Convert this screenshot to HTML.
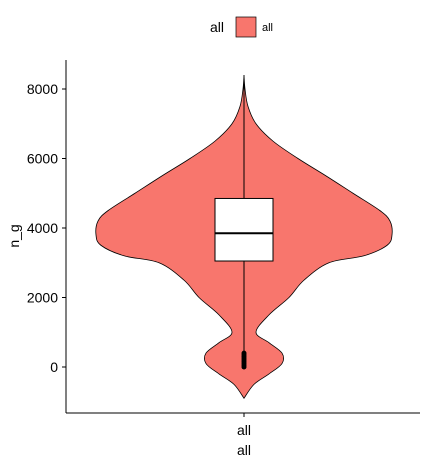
<!DOCTYPE html>
<html><head><meta charset="utf-8"><style>
body{margin:0;background:#fff;font-family:"Liberation Sans",sans-serif}
</style></head><body>
<svg id="c" width="425" height="461" xmlns="http://www.w3.org/2000/svg">
<g>
<text x="217" y="32" font-size="14" text-anchor="middle" fill="#000">all</text>
<rect x="236" y="17" width="20" height="20" fill="#F8766D" stroke="#000" stroke-width="0.7"/>
<text x="262" y="31" font-size="11" fill="#000">all</text>
</g>
<g id="plot"></g>
<line x1="66" y1="60" x2="66" y2="413" stroke="#000" stroke-width="1"/>
<line x1="66" y1="413" x2="420" y2="413" stroke="#000" stroke-width="1"/>
<g id="yticks"></g>
<line x1="244" y1="413" x2="244" y2="417" stroke="#000"/>
<text x="244" y="435" font-size="14" text-anchor="middle" fill="#000">all</text>
<text x="244" y="455" font-size="14" text-anchor="middle" fill="#000">all</text>
<text x="0" y="0" font-size="14" text-anchor="middle" fill="#000" transform="translate(19,236) rotate(-90)">n_g</text>
</svg>
<script>
const yTicks=[0,2000,4000,6000,8000];
const densVals=[8400,8000,7500,7000,6500,6000,5500,5000,4500,4200,3800,3500,3200,3000,2500,2000,1500,1000,700,400,100,-200,-500,-900];
const densWidth=[0,1,4,12,29,54,82,109,136,146,148,143,120,85,60,45,25,12,25,38,38,25,10,0];
const boxStats=[3050,3850,4850];
const whisker=[450,8400];
const outliers=[0,50,100,150,200,250,300,350,400];
const NS="http://www.w3.org/2000/svg";
const y=v=>367-v*(278/8000);
const cx=244;
const plot=document.getElementById('plot');
function mk(t,a){const e=document.createElementNS(NS,t);for(const k in a)e.setAttribute(k,a[k]);return e;}
function smooth(p){let d='M'+p[0][0]+','+p[0][1];
for(let i=0;i<p.length-1;i++){const p0=p[Math.max(0,i-1)],p1=p[i],p2=p[i+1],p3=p[Math.min(p.length-1,i+2)];
d+=' C'+(p1[0]+(p2[0]-p0[0])/6)+','+(p1[1]+(p2[1]-p0[1])/6)+' '+(p2[0]-(p3[0]-p1[0])/6)+','+(p2[1]-(p3[1]-p1[1])/6)+' '+p2[0]+','+p2[1];}
return d;}
const right=densVals.map((v,i)=>[cx+densWidth[i],y(v)]);
const left=densVals.map((v,i)=>[cx-densWidth[i],y(v)]).reverse();
const d=smooth(right)+' L'+smooth(left).slice(1)+' Z';
const vio=mk('path',{d:d,fill:'#F8766D',stroke:'#000','stroke-width':0.8});


plot.appendChild(vio);
const wl=mk('line',{x1:cx,x2:cx,y1:y(whisker[1]),y2:y(whisker[0]),stroke:'#000','stroke-width':1});


plot.appendChild(wl);
outliers.forEach(o=>{const c=mk('circle',{cx:cx,cy:y(o),r:2.5,fill:'#000'});


plot.appendChild(c);});
const box=mk('rect',{x:cx-29,width:58,y:y(boxStats[2]),height:y(boxStats[0])-y(boxStats[2]),fill:'#fff',stroke:'#000','stroke-width':1});


plot.appendChild(box);
const med=mk('line',{x1:cx-29,x2:cx+29,y1:y(boxStats[1]),y2:y(boxStats[1]),stroke:'#000','stroke-width':2});


plot.appendChild(med);
const yt=document.getElementById('yticks');
yTicks.forEach(t=>{
const l=mk('line',{x1:62,x2:66,y1:y(t),y2:y(t),stroke:'#000'});


yt.appendChild(l);
const tx=mk('text',{x:58,y:y(t)+5,'font-size':14,'text-anchor':'end',fill:'#000'});
tx.textContent=t;


yt.appendChild(tx);});
</script>
</body></html>
